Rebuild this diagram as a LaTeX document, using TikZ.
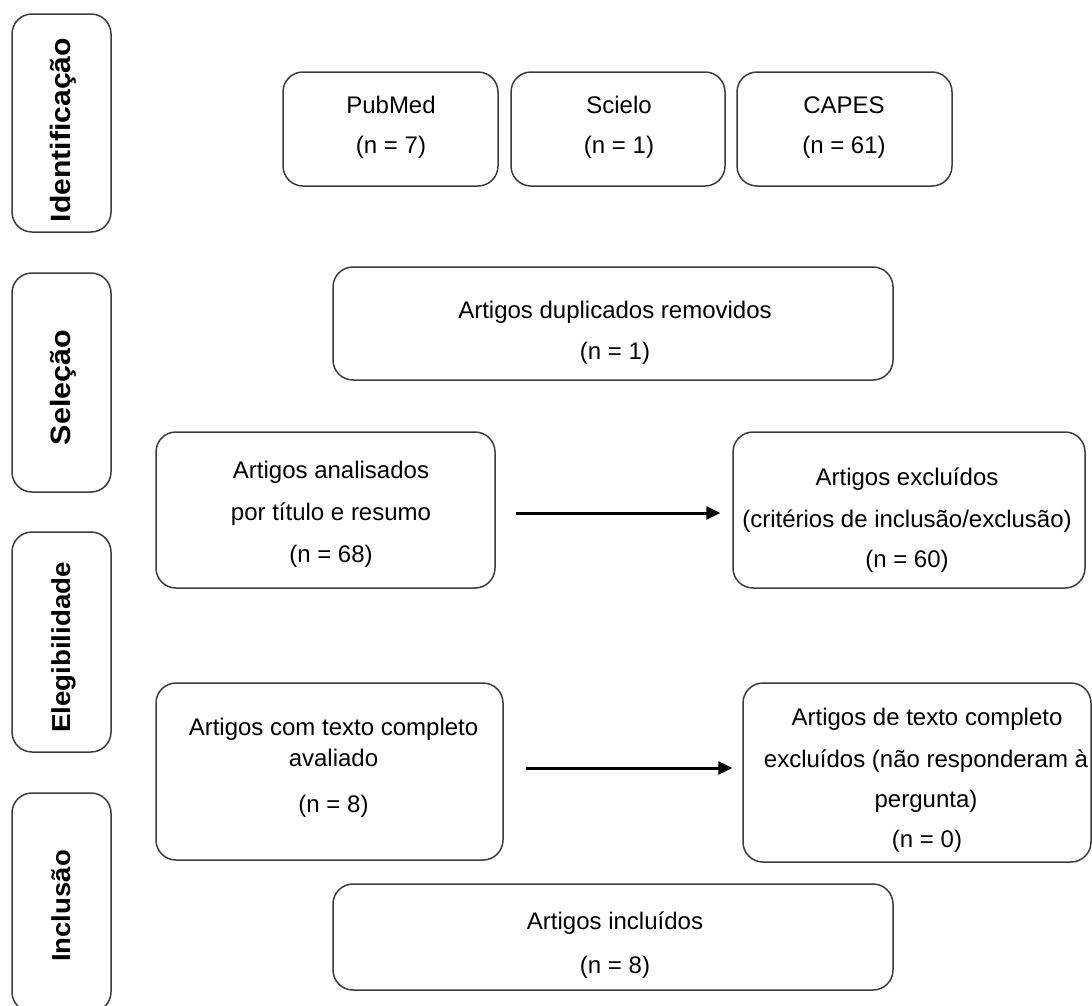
\documentclass[tikz,border=0pt]{standalone}
\usepackage{fontspec}
\setmainfont{Liberation Sans}
\usepackage{graphicx}
\usetikzlibrary{arrows.meta}
\definecolor{linecol}{HTML}{3C3C3C}
\begin{document}
\begin{tikzpicture}[x=1pt,y=-1pt,
  box/.style={draw=linecol, line width=1.5pt, rounded corners=20pt, inner sep=0pt},
  txt/.style={font=\fontsize{24}{28}\selectfont, anchor=base, inner sep=0pt},
  side/.style={rotate=90, anchor=base, inner sep=0pt},
  flow/.style={line width=3pt, -{Triangle[length=14pt,width=13pt]}}]
\useasboundingbox (0,0) rectangle (1092,1005);
\clip (0,0) rectangle (1092,1005);

% side boxes
\node[box, minimum width=99pt, minimum height=218pt] (sid) at (61.5,123) {};
\node[box, minimum width=99pt, minimum height=219pt] (ssel) at (61.5,382.5) {};
\node[box, minimum width=99pt, minimum height=220pt] (seleg) at (61.5,642) {};
\node[box, minimum width=99pt, minimum height=219pt] (sinc) at (61.5,902.5) {};
\node[side, font=\fontsize{28}{32}\selectfont\bfseries] (lid) at (70,130) {\scalebox{1.075}[1]{Identificação}};
\node[side, font=\fontsize{28}{32}\selectfont\bfseries] (lsel) at (70,387.5) {\scalebox{1.087}[1]{Seleção}};
\node[side, font=\fontsize{26}{30}\selectfont\bfseries] (leleg) at (70,647.5) {\scalebox{1.066}[1]{Elegibilidade}};
\node[side, font=\fontsize{26}{30}\selectfont\bfseries] (linc) at (70,906) {\scalebox{1.06}[1]{Inclusão}};

% main boxes
\node[box, minimum width=215pt, minimum height=114pt] (pub) at (390.5,129) {};
\node[box, minimum width=214pt, minimum height=114pt] (sci) at (618,129) {};
\node[box, minimum width=215pt, minimum height=114pt] (cap) at (844.5,129) {};
\node[box, minimum width=560pt, minimum height=113pt] (dup) at (613,323.5) {};
\node[box, minimum width=339pt, minimum height=156pt] (anal) at (325.5,510) {};
\node[box, minimum width=352pt, minimum height=156pt] (ex1) at (909,510) {};
\node[box, minimum width=347pt, minimum height=177pt] (tc) at (329.5,771.5) {};
\node[box, minimum width=348pt, minimum height=179pt] (ex2) at (917,772.5) {};
\node[box, minimum width=560pt, minimum height=106pt] (inc) at (613,937) {};

% texts
\node[txt] (t1a) at (391,113) {PubMed};
\node[txt] (t1b) at (391,153) {(n = 7)};
\node[txt] (t2a) at (619,113) {Scielo};
\node[txt] (t2b) at (619,153) {(n = 1)};
\node[txt] (t3a) at (844,113) {CAPES};
\node[txt] (t3b) at (844,153) {(n = 61)};
\node[txt] (t4a) at (615,318) {Artigos duplicados removidos};
\node[txt] (t4b) at (615,359) {(n = 1)};
\node[txt] (t5a) at (331,478) {Artigos analisados};
\node[txt] (t5b) at (331,520) {por título e resumo};
\node[txt] (t5c) at (331,562) {(n = 68)};
\node[txt] (t6a) at (907,485) {Artigos excluídos};
\node[txt] (t6b) at (907,527) {(critérios de inclusão/exclusão)};
\node[txt] (t6c) at (907,567) {(n = 60)};
\node[txt] (t7a) at (333.5,735) {Artigos com texto completo};
\node[txt] (t7b) at (333.5,766) {avaliado};
\node[txt] (t7c) at (333.5,812) {(n = 8)};
\node[txt] (t8a) at (927,725) {Artigos de texto completo};
\node[txt] (t8b) at (926,767) {excluídos (não responderam à};
\node[txt] (t8c) at (926,807) {pergunta)};
\node[txt] (t8d) at (927,847) {(n = 0)};
\node[txt] (t9a) at (615,929) {Artigos incluídos};
\node[txt] (t9b) at (615,973) {(n = 8)};

% arrows
\draw[flow] ([xshift=20pt,yshift=-3pt]anal.east) -- ([xshift=-12pt,yshift=-3pt]ex1.west);
\draw[flow] ([xshift=22pt,yshift=3.5pt]tc.east) -- ([xshift=-10pt,yshift=4.5pt]ex2.west);
\end{tikzpicture}
\end{document}
